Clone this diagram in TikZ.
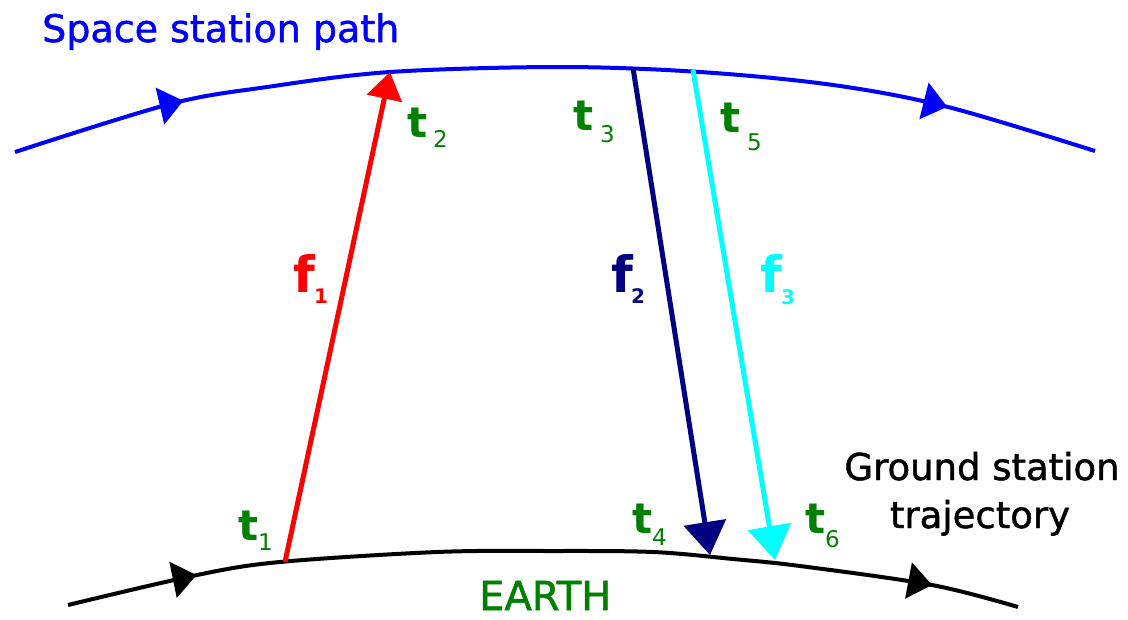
\documentclass[tikz,border=0pt]{standalone}
\usepackage{fontspec}
\setmainfont{DejaVu Sans}
\newfontfamily\heavyfont[FakeBold=1.3]{DejaVu Sans}
\usetikzlibrary{arrows.meta,decorations.markings}
\definecolor{grn}{RGB}{0,128,0}
\definecolor{navyc}{RGB}{0,0,128}
\definecolor{cyn}{RGB}{0,255,255}
\definecolor{blu}{RGB}{0,0,255}
\definecolor{rd}{RGB}{255,0,0}
\begin{document}
\begin{tikzpicture}[x=1pt,y=-1pt,
  tlab/.style={inner sep=0pt,anchor=base west,text=grn,font=\fontsize{42}{42}\selectfont\bfseries},
  tsub/.style={inner sep=0pt,anchor=base west,text=grn,font=\fontsize{23}{23}\selectfont},
  flab/.style={inner sep=0pt,anchor=base west,font=\fontsize{50}{50}\selectfont\bfseries},
  fsub/.style={inner sep=0pt,anchor=base west,font=\fontsize{20}{20}\selectfont\bfseries},
  title/.style={inner sep=0pt,font=\fontsize{38}{38}\heavyfont},
  signal/.style={line width=5pt},
  orbit/.style={line width=4pt,line join=round}
]
\useasboundingbox (0,0) rectangle (1128,619);

% space station path
\draw[orbit,blu,postaction={decorate},
  decoration={markings,
    mark=at position 176pt with {\arrow{Triangle[length=24pt,width=37pt]}},
    mark=at position 945pt with {\arrow{Triangle[length=24pt,width=37pt]}}}]
  plot[smooth,tension=0.55] coordinates {(15,152) (170,104) (267,87) (390,72) (560,67) (700,72) (833,85) (948,107) (1095,151)};

% ground station trajectory
\draw[orbit,black,postaction={decorate},
  decoration={markings,
    mark=at position 132pt with {\arrow{Triangle[length=24pt,width=36pt]}},
    mark=at position 871pt with {\arrow{Triangle[length=24pt,width=36pt]}}}]
  plot[smooth,tension=0.55] coordinates {(68,605) (197,575) (280,562) (437,552) (550,551) (653,552) (733,559) (800,566) (932,585) (1018,607)};

% end points of signals
\coordinate (f1s) at (285,562);
\coordinate (f1e) at (390,72);
\coordinate (f2s) at (633,68);
\coordinate (f2e) at (710,555);
\coordinate (f3s) at (693,70);
\coordinate (f3e) at (775,560);

\draw[signal,rd,-{Triangle[length=27pt,width=35pt]}] (f1s) -- (f1e);
\draw[signal,navyc,-{Triangle[length=33pt,width=42pt]}] (f2s) -- (f2e);
\draw[signal,cyn,-{Triangle[length=34pt,width=43pt]}] (f3s) -- (f3e);

% time labels
\node[tlab] (t1) at (238,540) {t};
\node[tsub] (t1n) at (258,550) {1};
\node[tlab] (t2) at (407,137) {t};
\node[tsub] (t2n) at (433,147) {2};
\node[tlab] (t3) at (573,130) {t};
\node[tsub] (t3n) at (600,142) {3};
\node[tlab] (t4) at (632,533) {t};
\node[tsub] (t4n) at (652,545) {4};
\node[tlab] (t5) at (720,132) {t};
\node[tsub] (t5n) at (747,150) {5};
\node[tlab] (t6) at (805,533) {t};
\node[tsub] (t6n) at (825,547) {6};

% frequency labels
\node[flab,text=rd] (f1) at (293,292) {f};
\node[fsub,text=rd] (f1n) at (314,303) {1};
\node[flab,text=navyc] (f2) at (611,292) {f};
\node[fsub,text=navyc] (f2n) at (631,303) {2};
\node[flab,text=cyn] (f3) at (760,292) {f};
\node[fsub,text=cyn] (f3n) at (781,304) {3};

% titles
\node[title,anchor=base west,text=blu] (sp) at (42,42) {Space station path};
\node[title,anchor=base,text=black,font=\fontsize{37}{37}\heavyfont] (gs1) at (982,480) {Ground station};
\node[title,anchor=base,text=black,font=\fontsize{37}{37}\heavyfont] (gs2) at (980,528) {trajectory};
\node[title,anchor=base west,text=grn,font=\fontsize{40}{40}\heavyfont] (earth) at (479,610) {EARTH};
\end{tikzpicture}
\end{document}
